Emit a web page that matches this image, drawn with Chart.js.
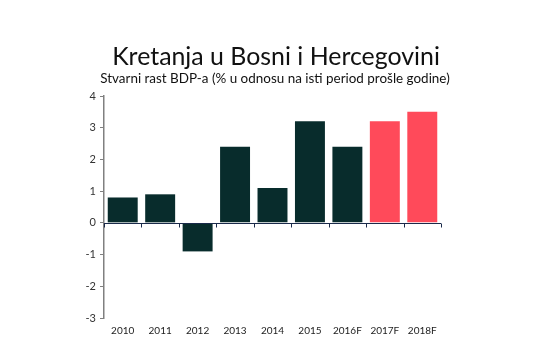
<!DOCTYPE html>
<html>
<head>
<meta charset="utf-8">
<script src="https://cdn.jsdelivr.net/npm/chart.js@4.4.0/dist/chart.umd.min.js"></script>
<style>
html,body{margin:0;padding:0;background:#fff;}
#wrap{width:550px;height:351px;position:relative;}
</style>
</head>
<body>
<div id="wrap"><canvas id="c" width="550" height="351"></canvas></div>
<script>
const title = "Kretanja u Bosni i Hercegovini";
const subtitle = "Stvarni rast BDP-a (% u odnosu na isti period prošle godine)";
const categories = ["2010","2011","2012","2013","2014","2015","2016F","2017F","2018F"];
const growth = [0.8, 0.9, -0.9, 2.4, 1.1, 3.2, 2.4, 3.2, 3.5];
const forecastFlags = [false,false,false,false,false,false,false,true,true];
const yTicks = [-3,-2,-1,0,1,2,3,4];

const DARK = "#082c2c";
const PINK = "#ff4a5a";
const FONT = "Lato, 'Open Sans', sans-serif";

function fitFont(ctx, text, width, weight){
  ctx.font = weight + " 100px " + FONT;
  const w = ctx.measureText(text).width;
  return 100 * width / w;
}

const textPlugin = {
  id: 'texts',
  afterDraw(chart){
    const ctx = chart.ctx;
    ctx.save();
    ctx.fillStyle = "#111";
    ctx.textAlign = "center";
    ctx.textBaseline = "alphabetic";
    let s1 = fitFont(ctx, title, 328, "normal");
    ctx.font = "normal " + s1 + "px " + FONT;
    ctx.fillText(title, 276, 65);
    let s2 = fitFont(ctx, subtitle, 350, "normal");
    ctx.font = "normal " + s2 + "px " + FONT;
    ctx.fillText(subtitle, 275, 83);
    // zero line with category boundary ticks
    const x = chart.scales.x, y = chart.scales.y;
    const y0 = Math.round(y.getPixelForValue(0)) + 0.5;
    ctx.strokeStyle = "#1a2a4a";
    ctx.lineWidth = 1.2;
    ctx.beginPath();
    ctx.moveTo(chart.chartArea.left, y0);
    ctx.lineTo(chart.chartArea.right, y0);
    ctx.stroke();
    ctx.lineWidth = 1;
    for (let i = 0; i <= categories.length; i++){
      const px = Math.round(x.getPixelForValue(i - 0.5)) + 0.5;
      ctx.beginPath();
      ctx.moveTo(px, y0);
      ctx.lineTo(px, y0 + 4);
      ctx.stroke();
    }
    ctx.restore();
  }
};

new Chart(document.getElementById('c'), {
  type: 'bar',
  data: {
    labels: categories,
    datasets: [{
      data: growth,
      backgroundColor: forecastFlags.map(f => f ? PINK : DARK),
      borderWidth: 0,
      barPercentage: 0.8,
      categoryPercentage: 1.0
    }]
  },
  options: {
    responsive: false,
    animation: false,
    devicePixelRatio: 1,
    layout: { padding: { left: 64, right: 109, top: 96, bottom: 12 } },
    plugins: { legend: { display: false }, tooltip: { enabled: false }, title: { display: false } },
    scales: {
      x: {
        position: 'bottom',
        border: { display: false },
        grid: { display: false, drawTicks: false, tickLength: 0 },
        ticks: { color: "#222", font: { family: FONT, size: 10 }, padding: 7, maxRotation: 0 },
        afterFit(s){ s.height = 21; }
      },
      y: {
        min: -3, max: 4,
        afterBuildTicks(s){ s.ticks = yTicks.map(v => ({value: v})); },
        border: { display: true, color: "#808080", width: 1.5 },
        grid: { drawOnChartArea: false, drawTicks: true, tickLength: 4, color: "#808080" },
        ticks: { color: "#333", font: { family: FONT, size: 11 }, padding: 4 },
        afterFit(s){ s.width = 40; }
      }
    }
  },
  plugins: [textPlugin]
});
</script>
</body>
</html>
